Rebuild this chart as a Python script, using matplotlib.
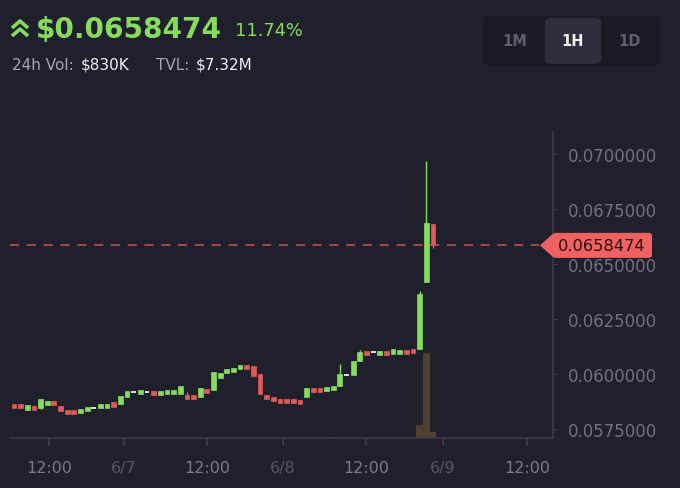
import matplotlib

matplotlib.use("Agg")
import matplotlib.pyplot as plt  # noqa: E402
from matplotlib.lines import Line2D  # noqa: E402
from matplotlib.patches import FancyBboxPatch, Polygon  # noqa: E402

# hourly candles
opens = [
    0.05865, 0.05865, 0.05837, 0.05856, 0.05846, 0.05858, 0.05878, 0.05855,
    0.05837, 0.05837, 0.05822, 0.05831, 0.05846, 0.05845, 0.05845, 0.05871,
    0.05864, 0.05896, 0.05918, 0.05908, 0.05918, 0.05924, 0.05904, 0.05908,
    0.05909, 0.05909, 0.05906, 0.05906, 0.05896, 0.05933, 0.05927, 0.05982,
    0.06004, 0.06008, 0.06022, 0.06042, 0.06037, 0.06000, 0.05906, 0.05897,
    0.05887, 0.05887, 0.05887, 0.05883, 0.05896, 0.05937, 0.05937, 0.05922,
    0.05926, 0.05946, 0.05995, 0.05996, 0.06059, 0.06106, 0.06100, 0.06086,
    0.06106, 0.06092, 0.06090, 0.06110, 0.06115, 0.06114, 0.06418, 0.06682,
]
closes = [
    0.05845, 0.05845, 0.05857, 0.05836, 0.05886, 0.05878, 0.05858, 0.05832,
    0.05817, 0.05817, 0.05842, 0.05851, 0.05846, 0.05865, 0.05865, 0.05851,
    0.05900, 0.05923, 0.05918, 0.05928, 0.05918, 0.05904, 0.05924, 0.05928,
    0.05929, 0.05946, 0.05886, 0.05886, 0.05937, 0.05913, 0.06009, 0.06005,
    0.06024, 0.06028, 0.06042, 0.06022, 0.05991, 0.05909, 0.05886, 0.05877,
    0.05867, 0.05867, 0.05867, 0.05863, 0.05937, 0.05917, 0.05917, 0.05942,
    0.05946, 0.06000, 0.05995, 0.06059, 0.06100, 0.06086, 0.06100, 0.06106,
    0.06086, 0.06112, 0.06110, 0.06090, 0.06095, 0.06364, 0.06686, 0.0658474,
]
highs = [
    0.05865, 0.05865, 0.05857, 0.05856, 0.05886, 0.05878, 0.05878, 0.05855,
    0.05837, 0.05837, 0.05842, 0.05851, 0.05846, 0.05865, 0.05865, 0.05871,
    0.05900, 0.05923, 0.05918, 0.05928, 0.05918, 0.05924, 0.05924, 0.05928,
    0.05929, 0.05946, 0.05920, 0.05906, 0.05937, 0.05933, 0.06009, 0.06005,
    0.06024, 0.06028, 0.06042, 0.06042, 0.06037, 0.06000, 0.05906, 0.05897,
    0.05887, 0.05887, 0.05887, 0.05883, 0.05937, 0.05937, 0.05937, 0.05942,
    0.05946, 0.06045, 0.05995, 0.06059, 0.06109, 0.06106, 0.06100, 0.06106,
    0.06106, 0.06112, 0.06110, 0.06110, 0.06115, 0.06377, 0.06968, 0.06682,
]
lows = [
    0.05845, 0.05845, 0.05837, 0.05836, 0.05841, 0.05858, 0.05858, 0.05832,
    0.05817, 0.05817, 0.05822, 0.05831, 0.05846, 0.05845, 0.05845, 0.05851,
    0.05864, 0.05896, 0.05918, 0.05908, 0.05918, 0.05904, 0.05904, 0.05908,
    0.05909, 0.05909, 0.05886, 0.05886, 0.05896, 0.05913, 0.05927, 0.05982,
    0.06004, 0.06008, 0.06022, 0.06022, 0.05991, 0.05909, 0.05886, 0.05877,
    0.05867, 0.05867, 0.05867, 0.05863, 0.05896, 0.05917, 0.05917, 0.05922,
    0.05926, 0.05946, 0.05995, 0.05996, 0.06059, 0.06086, 0.06100, 0.06086,
    0.06086, 0.06092, 0.06090, 0.06090, 0.06095, 0.06114, 0.06418, 0.06575,
]
volumes = [0] * 48 + [6] + [0] * 12 + [90, 580, 42]

price_ticks = [0.0575, 0.0600, 0.0625, 0.0650, 0.0675, 0.0700]
time_tick_pos = [5.26, 16.54, 29.02, 40.45, 52.93, 64.51, 77.14]
time_tick_labels = ["12:00", "6/7", "12:00", "6/8", "12:00", "6/9", "12:00"]
date_labels = {"6/7", "6/8", "6/9"}

last_price = closes[-1]
price_text = "$0.0658474"
change_text = "11.74%"
buttons = ["1M", "1H", "1D"]

BG = "#20202c"
GREEN = "#86dc5e"
RED = "#e05a5a"
DOJI = "#d8d8e0"
GRID = "#3a3a4a"
W, H = 680, 489


def fx(px):
    return px / W


def fy(py):
    return 1 - py / H


fig = plt.figure(figsize=(6.8, 4.89), dpi=100, facecolor=BG)
plt.rcParams["font.family"] = ["DejaVu Sans"]

left, right, top, bottom = 10, 553, 133, 439
ax_vol = fig.add_axes([fx(left), fy(bottom), fx(right - left), (bottom - top) / H])
ax = fig.add_axes([fx(left), fy(bottom), fx(right - left), (bottom - top) / H])
ax.set_zorder(2)
ax.patch.set_visible(False)
ax_vol.set_facecolor(BG)

idx = list(range(len(opens)))

# volume
ax_vol.bar(idx, volumes, width=1.0, color="#4f4130", linewidth=0)
ax_vol.set_ylim(0, 2088)
ax_vol.set_xlim(-0.6, 81.05)
ax_vol.axis("off")

# candles
for i, (o, c, h, lo) in enumerate(zip(opens, closes, highs, lows)):
    if c > o:
        col = GREEN
    elif c < o:
        col = RED
    else:
        col = DOJI
    if h > max(o, c) or lo < min(o, c):
        ax.vlines(i, lo, h, color=col, linewidth=1.0)
    body = abs(c - o)
    if body < 0.00008:
        ax.bar(i, 0.00008, bottom=o - 0.00004, width=0.72, color=col, linewidth=0)
    else:
        ax.bar(i, body, bottom=min(o, c), width=0.72, color=col,
               edgecolor=col, linewidth=0.5)

ax.axhline(last_price, color="#c85252", linewidth=1.1, dashes=(6, 5), xmax=0.975)

ax.set_xlim(-0.6, 81.05)
ax.set_ylim(0.057091, 0.071)

for s in ("left", "top"):
    ax.spines[s].set_visible(False)
for s in ("right", "bottom"):
    ax.spines[s].set_color(GRID)
    ax.spines[s].set_linewidth(1.2)

ax.yaxis.tick_right()
ax.set_yticks(price_ticks)
ax.set_yticklabels([f"{v:.7f}" for v in price_ticks])
ax.tick_params(axis="y", colors=GRID, length=3, pad=8, labelsize=11.9,
               labelcolor="#72727f")
ax.set_xticks(time_tick_pos)
ax.set_xticklabels(time_tick_labels)
ax.tick_params(axis="x", colors=GRID, length=6, width=1.2, pad=10,
               labelsize=11.5, labelcolor="#7a7a88")
for lbl in ax.get_xticklabels():
    if lbl.get_text() in date_labels:
        lbl.set_color("#55555f")

# last price tag
ly = ax.transData.transform((0, last_price))[1]
tip_x, box_l, box_r, half = 540, 553, 652, 12.5
box = FancyBboxPatch((box_l, ly - half), box_r - box_l, 2 * half,
                     boxstyle="round,pad=0,rounding_size=3", transform=None,
                     facecolor="#f06262", edgecolor="none", zorder=5)
tri = Polygon([(tip_x, ly), (box_l + 1, ly + half), (box_l + 1, ly - half)],
              closed=True, transform=None, facecolor="#f06262",
              edgecolor="none", zorder=5)
fig.add_artist(box)
fig.add_artist(tri)
fig.text(fx(602), ly / H, f"{last_price:.7f}", ha="center", va="center",
         fontsize=11.7, color="#2a0a0a", zorder=6)

# header
for y0 in (22, 30):
    fig.add_artist(Line2D([fx(12), fx(20), fx(28)], [fy(y0 + 7), fy(y0), fy(y0 + 7)],
                          color=GREEN, linewidth=2.6, solid_capstyle="butt"))
fig.text(fx(36), fy(38), price_text, fontsize=20.2, fontweight="bold",
         color=GREEN, va="baseline")
fig.text(fx(235), fy(36), change_text, fontsize=12.8, color=GREEN, va="baseline")
fig.text(fx(12), fy(70), "24h Vol:", fontsize=11, color="#a4a4b2", va="baseline")
fig.text(fx(81), fy(70), "$830K", fontsize=11, color="#f0f0f4", va="baseline")
fig.text(fx(156), fy(70), "TVL:", fontsize=11, color="#a4a4b2", va="baseline")
fig.text(fx(196), fy(70), "$7.32M", fontsize=11, color="#f0f0f4", va="baseline")

# interval buttons
fig.add_artist(FancyBboxPatch((fx(483), fy(67)), fx(660 - 483), (67 - 17) / H,
                              boxstyle="round,pad=0,rounding_size=0.012",
                              transform=fig.transFigure, facecolor="#1a1a24",
                              edgecolor="none"))
fig.add_artist(FancyBboxPatch((fx(545), fy(65)), fx(601 - 545), (65 - 19) / H,
                              boxstyle="round,pad=0,rounding_size=0.01",
                              transform=fig.transFigure, facecolor="#2e2e3c",
                              edgecolor="none"))
for name, bx in zip(buttons, (515, 573, 629)):
    fig.text(fx(bx), fy(42), name, ha="center", va="center", fontsize=10.5,
             fontweight="bold", color="#f2f2f2" if name == "1H" else "#5e5e6c")

fig.savefig("out.png", dpi=100, facecolor=BG)
